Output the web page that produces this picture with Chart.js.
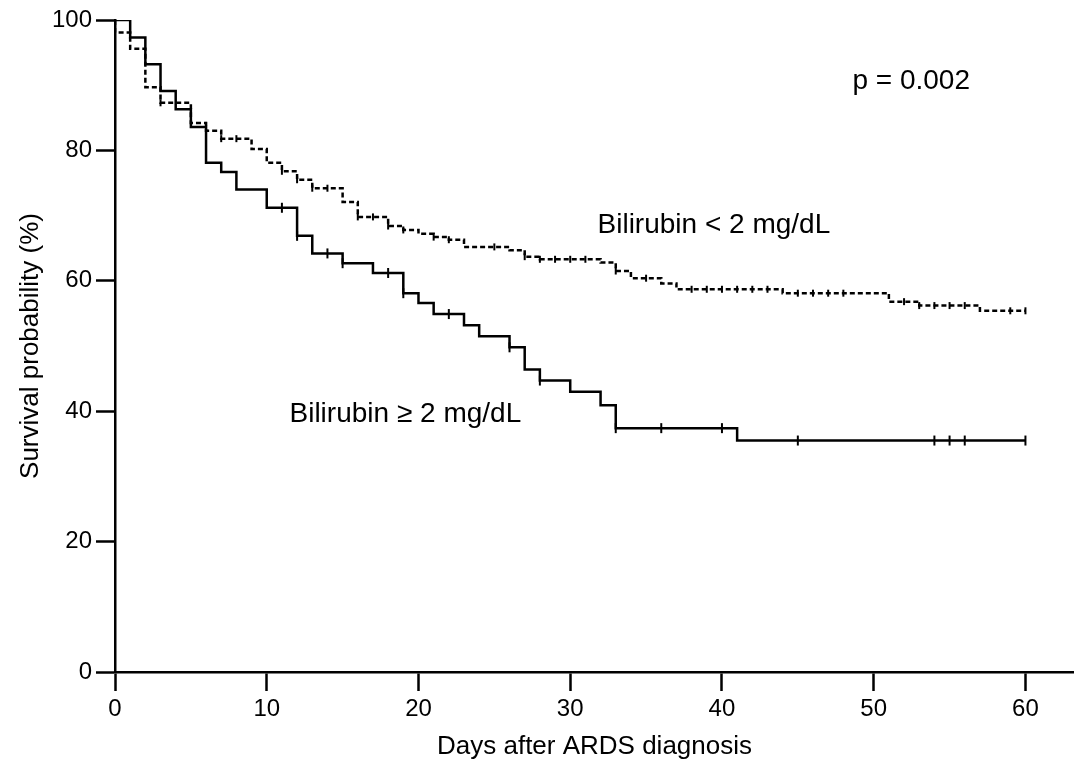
<!DOCTYPE html>
<html>
<head>
<meta charset="utf-8">
<script src="https://cdn.jsdelivr.net/npm/chart.js@4.4.1/dist/chart.umd.min.js"></script>
<style>
  html, body { margin: 0; padding: 0; background: #fff; overflow: hidden; }
  #wrap { width: 1074px; height: 766px; position: relative; }
</style>
</head>
<body>
<div id="wrap"><canvas id="km"></canvas></div>
<script>
// ----------------------------------------------------
// DATA
// ----------------------------------------------------
const xTicks = [0, 10, 20, 30, 40, 50, 60];
const yTicks = [0, 20, 40, 60, 80, 100];

// Bilirubin >= 2 mg/dL : step times (days) and survival (%)
const highDays = [0, 1, 2, 3, 4, 5, 6, 7, 8, 10, 12, 13, 15, 17, 19, 20, 21, 23, 24, 26, 27, 28, 30, 32, 33, 41, 60];
const highSurv = [100, 97.3, 93.2, 89.1, 86.3, 83.6, 78.1, 76.7, 74.0, 71.2, 66.9, 64.2, 62.7, 61.2, 58.1, 56.6, 54.9, 53.2, 51.5, 49.8, 46.4, 44.7, 43.0, 40.9, 37.4, 35.5, 35.5];
// censored marks
const highCensDays = [6, 11, 12, 14, 15, 18, 19, 22, 26, 28, 33, 36, 40, 45, 54, 55, 56, 60];
const highCensSurv = [83.6, 71.2, 66.9, 64.2, 62.7, 61.2, 58.1, 54.9, 49.8, 44.7, 37.4, 37.4, 37.4, 35.5, 35.5, 35.5, 35.5, 35.5];

// Bilirubin < 2 mg/dL
const lowDays = [0, 0, 1, 2, 3, 5, 6, 7, 9, 10, 11, 12, 13, 15, 16, 18, 19, 20, 21, 22, 23, 26, 27, 28, 32, 33, 34, 36, 37, 44, 51, 53, 57, 60];
const lowSurv = [100, 98.1, 95.6, 89.7, 87.3, 84.2, 83.0, 81.8, 80.2, 78.1, 76.8, 75.5, 74.2, 72.1, 69.8, 68.4, 67.8, 67.2, 66.7, 66.3, 65.2, 64.7, 63.7, 63.3, 62.8, 61.5, 60.4, 59.6, 58.7, 58.1, 56.8, 56.2, 55.4, 55.4];
const lowCensDays = [3, 7, 8, 11, 12, 13, 14, 16, 17, 18, 19, 21, 22, 25, 27, 28, 29, 30, 31, 33, 35, 38, 39, 40, 41, 42, 43, 45, 46, 47, 48, 52, 53, 54, 55, 56, 59, 60];
const lowCensSurv = [87.3, 81.8, 81.8, 76.8, 75.5, 74.2, 74.2, 69.8, 69.8, 68.4, 67.8, 66.7, 66.3, 65.2, 63.7, 63.3, 63.3, 63.3, 63.3, 61.5, 60.4, 58.7, 58.7, 58.7, 58.7, 58.7, 58.7, 58.1, 58.1, 58.1, 58.1, 56.8, 56.2, 56.2, 56.2, 56.2, 55.4, 55.4];

// annotations: [text, day, survival]
const notes = [
    ["p = 0.002", 48.6, 90.6],
    ["Bilirubin < 2 mg/dL", 31.8, 68.5],
    ["Bilirubin \u2265 2 mg/dL", 11.5, 39.6]
];

const FONT = "'Liberation Sans', Arial, sans-serif";

function pts(xs, ys) {
    return xs.map((x, i) => ({ x, y: ys[i] }));
}

// ----------------------------------------------------
// TEXT ANNOTATIONS
// ----------------------------------------------------
const notesPlugin = {
    id: "notes",
    afterDatasetsDraw(chart) {
        const { ctx, scales } = chart;
        ctx.save();
        ctx.font = "28px " + FONT;
        ctx.fillStyle = "#000";
        ctx.textAlign = "left";
        ctx.textBaseline = "middle";
        notes.forEach(n => {
            ctx.fillText(n[0], scales.x.getPixelForValue(n[1]), scales.y.getPixelForValue(n[2]));
        });
        ctx.restore();
    }
};

new Chart(document.getElementById("km"), {
    type: "line",
    data: {
        datasets: [
            {
                data: pts(highDays, highSurv),
                stepped: true,
                borderColor: "#000",
                borderWidth: 2.5,
                pointRadius: 0,
                fill: false
            },
            {
                data: pts(lowDays, lowSurv),
                stepped: true,
                borderColor: "#000",
                borderWidth: 2.5,
                borderDash: [5, 3],
                pointRadius: 0,
                fill: false
            },
            {
                data: pts(highCensDays, highCensSurv),
                showLine: false,
                pointStyle: "line",
                rotation: 90,
                pointRadius: 5,
                borderColor: "#000",
                borderWidth: 2
            },
            {
                data: pts(lowCensDays, lowCensSurv),
                showLine: false,
                pointStyle: "line",
                rotation: 90,
                pointRadius: 3.5,
                borderColor: "#000",
                borderWidth: 2
            }
        ]
    },
    options: {
        responsive: true,
        maintainAspectRatio: false,
        animation: false,
        layout: { autoPadding: false, padding: { top: 20, right: 0, left: 0, bottom: 0 } },
        plugins: { legend: { display: false }, tooltip: { enabled: false } },
        scales: {
            x: {
                type: "linear",
                min: 0,
                max: 63.2,
                afterBuildTicks: s => { s.ticks = xTicks.map(v => ({ value: v })); },
                afterFit: s => { s.height = 94; },
                grid: { drawOnChartArea: false, tickLength: 19, tickWidth: 2.5, color: "#000" },
                border: { color: "#000", width: 2.5 },
                ticks: { color: "#000", font: { family: FONT, size: 24 }, padding: 4, maxRotation: 0 },
                title: {
                    display: true,
                    text: "Days after ARDS diagnosis",
                    color: "#000",
                    font: { family: FONT, size: 26 },
                    padding: { top: 0, bottom: 4 }
                }
            },
            y: {
                min: 0,
                max: 100,
                afterBuildTicks: s => { s.ticks = yTicks.map(v => ({ value: v })); },
                afterFit: s => { s.width = 115; },
                grid: { drawOnChartArea: false, tickLength: 19, tickWidth: 2.5, color: "#000" },
                border: { color: "#000", width: 2.5 },
                ticks: { color: "#000", font: { family: FONT, size: 24 }, padding: 4 },
                title: {
                    display: true,
                    text: "Survival probability (%)",
                    color: "#000",
                    font: { family: FONT, size: 26 },
                    padding: { top: 15, bottom: 0 }
                }
            }
        }
    },
    plugins: [notesPlugin]
});
</script>
</body>
</html>
